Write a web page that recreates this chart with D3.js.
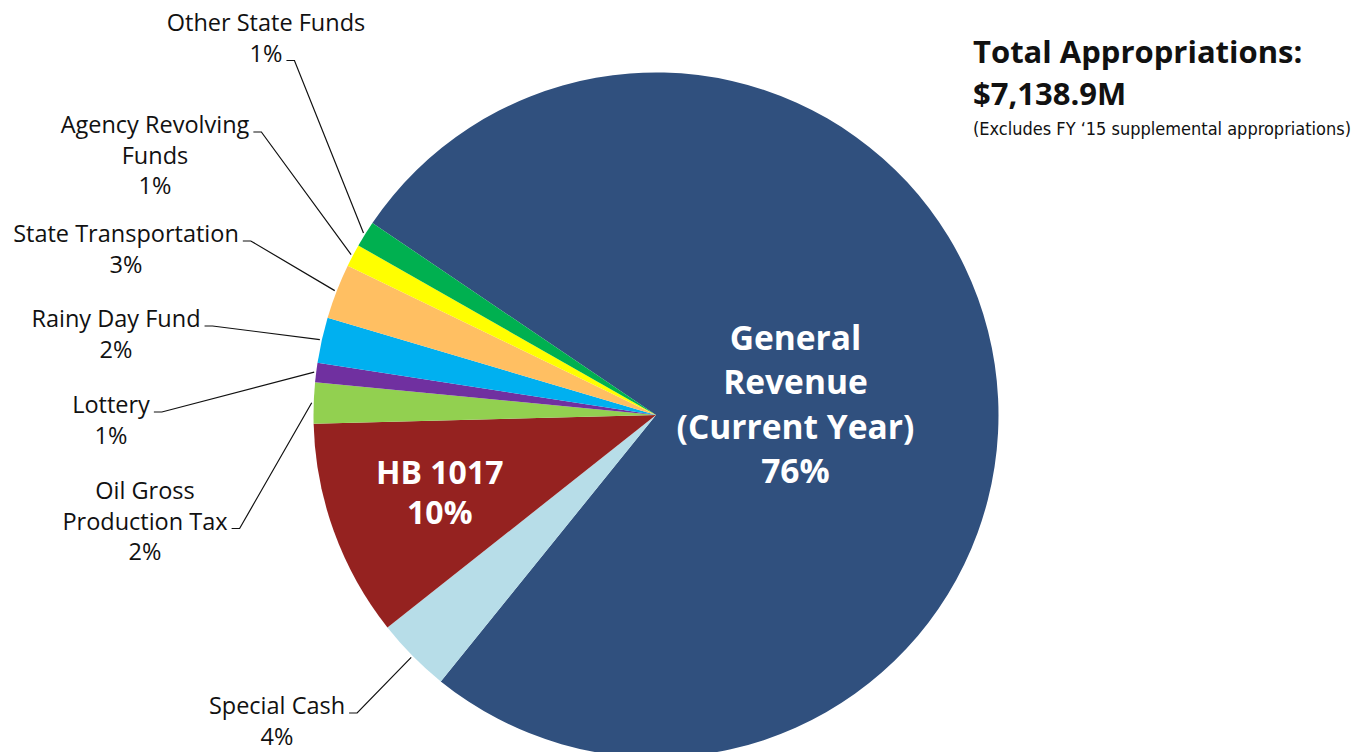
<!DOCTYPE html>
<html>
<head>
<meta charset="utf-8">
<script src="https://cdn.jsdelivr.net/npm/d3@7"></script>
<style>
  body { margin: 0; background: #fff; }
  svg { display: block; }
</style>
</head>
<body>
<script>
// FY'16 appropriations by source ($ millions)
const sources = ['General Revenue (Current Year)', 'Special Cash', 'HB 1017', 'Oil Gross Production Tax',
  'Lottery', 'Rainy Day Fund', 'State Transportation', 'Agency Revolving Funds', 'Other State Funds']
const amounts = [5450, 252, 732, 138, 65, 153, 185, 76, 88]
const percents = ['76%', '4%', '10%', '2%', '1%', '2%', '3%', '1%', '1%']
const labelLines = [
  ['General', 'Revenue', '(Current Year)'],
  ['Special Cash'],
  ['HB 1017'],
  ['Oil Gross', 'Production Tax'],
  ['Lottery'],
  ['Rainy Day Fund'],
  ['State Transportation'],
  ['Agency Revolving', 'Funds'],
  ['Other State Funds']
]
const colors = ['#30507e', '#b7dde8', '#952220', '#92d050', '#7030a0', '#00b0f0', '#ffbf62', '#ffff00', '#00b050']
const titleLines = ['Total Appropriations:', '$7,138.9M']
const note = '(Excludes FY \u201815 supplemental appropriations)'

const box = { width: 1364, height: 752, cx: 656, cy: 415, r: 342.5 }
const startDeg = 304.1

// label placement (layout only)
const inside = {
  'General Revenue (Current Year)': { radius: 141, size: 33.5, lh: 44.5, shift: 10 },
  'HB 1017': { radius: 230, size: 32, lh: 40, shift: -1 }
}
const outside = {
  'Special Cash': { x: 277, y: 714, hook: 0 },
  'Oil Gross Production Tax': { x: 145, y: 499, hook: 1 },
  'Lottery': { x: 111, y: 413, hook: 0 },
  'Rainy Day Fund': { x: 116, y: 327, hook: 0 },
  'State Transportation': { x: 126, y: 242, hook: 0 },
  'Agency Revolving Funds': { x: 155, y: 133, hook: 0 },
  'Other State Funds': { x: 266, y: 31, hook: 1 }
}

const rows = sources.map((s, i) => ({ name: s, value: amounts[i], pct: percents[i], lines: labelLines[i], color: colors[i] }))

const svg = d3.select('body').append('svg')
  .attr('width', box.width)
  .attr('height', box.height)
  .style('font-family', '"Open Sans", "Noto Sans", sans-serif')

const g = svg.append('g').attr('transform', `translate(${box.cx},${box.cy})`)

const start = startDeg * Math.PI / 180
const pie = d3.pie().sort(null).value(d => d.value).startAngle(start).endAngle(start + 2 * Math.PI)
const arcs = pie(rows)
const arc = d3.arc().innerRadius(0).outerRadius(box.r)

g.selectAll('path.slice')
  .data(arcs)
  .join('path')
  .attr('class', 'slice')
  .attr('d', arc)
  .attr('fill', d => d.data.color)

// labels inside the big slices
arcs.filter(d => inside[d.data.name]).forEach(d => {
  const opt = inside[d.data.name]
  const c = d3.arc().innerRadius(opt.radius).outerRadius(opt.radius).centroid(d)
  const lines = d.data.lines.concat([d.data.pct])
  const top = c[1] - (lines.length - 1) * opt.lh / 2 + opt.size * 0.36 + opt.shift
  const t = g.append('text')
    .attr('text-anchor', 'middle')
    .attr('fill', '#fff')
    .attr('font-weight', 700)
    .attr('font-size', opt.size)
  lines.forEach((ln, i) => {
    t.append('tspan').attr('x', c[0]).attr('y', top + i * opt.lh).text(ln)
  })
})

// outside labels with leader lines
const lh = 30.5
arcs.filter(d => outside[d.data.name]).forEach(d => {
  const opt = outside[d.data.name]
  const lines = d.data.lines.concat([d.data.pct])
  const t = svg.append('text')
    .attr('text-anchor', 'middle')
    .attr('fill', '#111')
    .attr('font-size', 23.5)
  const spans = lines.map((ln, i) =>
    t.append('tspan').attr('x', opt.x).attr('y', opt.y + i * lh).text(ln))
  const w = spans[opt.hook].node().getComputedTextLength()
  const x0 = opt.x + w / 2 + 4
  const y0 = opt.y + opt.hook * lh - 1
  const mid = (d.startAngle + d.endAngle) / 2
  const ex = box.cx + (box.r + 2) * Math.sin(mid)
  const ey = box.cy - (box.r + 2) * Math.cos(mid)
  svg.append('path')
    .attr('d', d3.line()([[x0, y0], [x0 + 8, y0], [ex, ey]]))
    .attr('fill', 'none')
    .attr('stroke', '#111')
    .attr('stroke-width', 1.2)
})

// title block
const title = svg.append('text')
  .attr('x', 973)
  .attr('fill', '#111')
  .attr('font-weight', 700)
  .attr('font-size', 31)
title.append('tspan').attr('x', 973).attr('y', 63).text(titleLines[0])
title.append('tspan').attr('x', 973).attr('y', 105).text(titleLines[1])

svg.append('text')
  .attr('x', 973)
  .attr('y', 135)
  .attr('fill', '#111')
  .attr('font-size', 18)
  .style('font-family', '"Liberation Sans Narrow", "DejaVu Sans Condensed", sans-serif')
  .text(note)
</script>
</body>
</html>
